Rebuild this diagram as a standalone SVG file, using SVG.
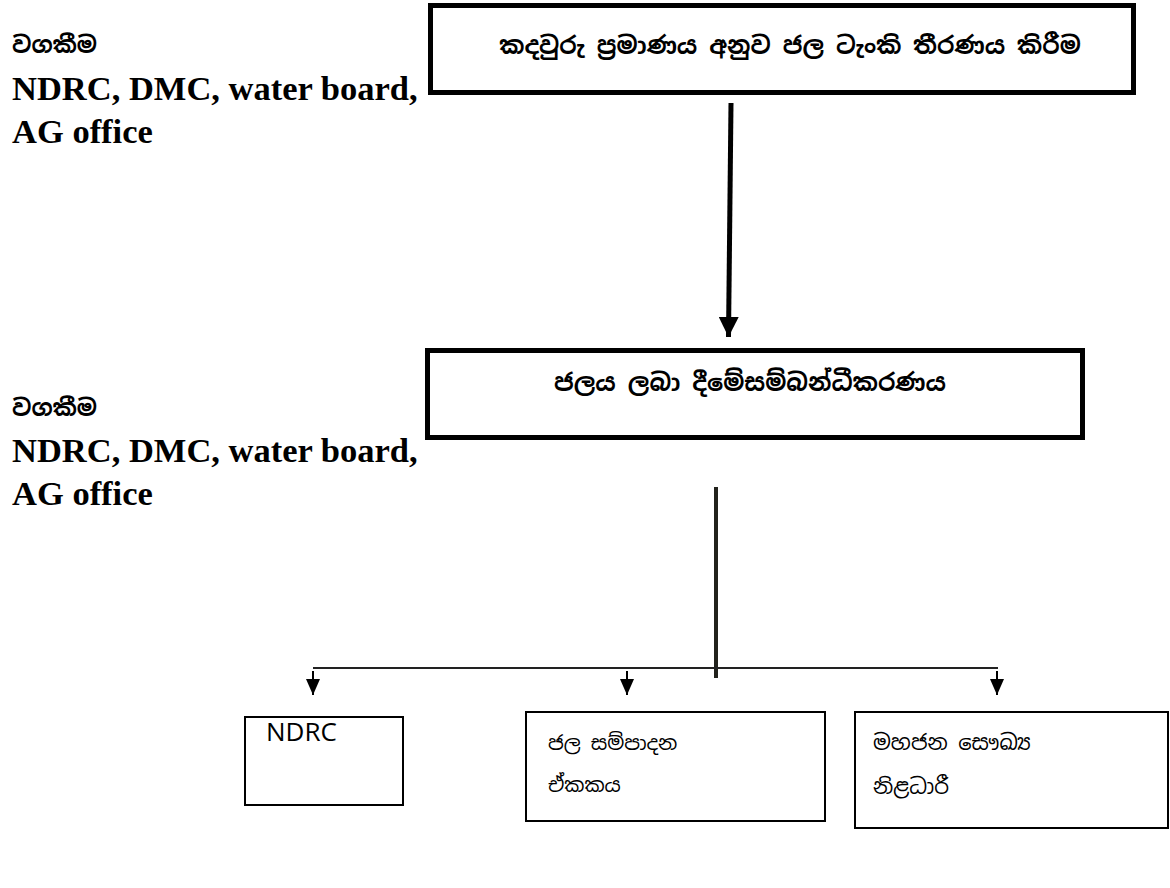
<svg xmlns="http://www.w3.org/2000/svg" width="1170" height="888" viewBox="0 0 1170 888">
<style>
.si{font-family:"Noto Sans Sinhala","Noto Serif Sinhala","Iskoola Pota","Noto Sans",sans-serif;fill:#000}
.en{font-family:"Liberation Serif","Times New Roman",serif;font-weight:bold;font-size:34.5px;fill:#000}
.cal{font-family:"Open Sans","Noto Sans","Liberation Sans",sans-serif;font-size:26px;fill:#000}
.thick{fill:none;stroke:#000;stroke-width:5}
.thin{fill:#fff;stroke:#000;stroke-width:2}
</style>
<defs>
<marker id="ah" viewBox="0 0 10 10" refX="10" refY="5" markerWidth="4" markerHeight="4" orient="auto" markerUnits="strokeWidth"><path d="M0,0 L10,5 L0,10 z" fill="#000"/></marker>
<marker id="ahs" viewBox="0 0 10 10" refX="10" refY="5" markerWidth="8" markerHeight="7" orient="auto" markerUnits="strokeWidth" preserveAspectRatio="none"><path d="M0,0 L10,5 L0,10 z" fill="#000"/></marker>
</defs>
<rect width="1170" height="888" fill="#fff"/>
<g id="label1">
<text class="si" x="12" y="53" font-size="23" font-weight="bold">වගකීම</text>
<text class="en" x="12" y="100">NDRC, DMC, water board,</text>
<text class="en" x="12" y="143">AG office</text>
</g>
<g id="label2">
<text class="si" x="12" y="416" font-size="23" font-weight="bold">වගකීම</text>
<text class="en" x="12" y="462">NDRC, DMC, water board,</text>
<text class="en" x="12" y="505">AG office</text>
</g>
<g id="node-top">
<rect class="thick" x="430.5" y="5.5" width="703" height="87"/>
<text class="si" x="790" y="54" font-size="24" font-weight="bold" text-anchor="middle">කදවුරු ප්‍රමාණය අනුව ජල ටැංකි තීරණය කිරීම</text>
</g>
<g id="node-mid">
<rect class="thick" x="427.5" y="350.5" width="655" height="87"/>
<text class="si" x="750" y="391" font-size="24" font-weight="bold" text-anchor="middle">ජලය ලබා දීමේසම්බන්ධීකරණය</text>
</g>
<g id="node-ndrc">
<rect class="thin" x="245" y="717" width="158" height="88"/>
<text class="cal" x="266" y="741">NDRC</text>
</g>
<g id="node-water">
<rect class="thin" x="526" y="712" width="299" height="109"/>
<text class="si" x="548" y="750" font-size="20">ජල සම්පාදන</text>
<text class="si" x="548" y="792" font-size="20">ඒකකය</text>
</g>
<g id="node-health">
<rect class="thin" x="855" y="712" width="313" height="116"/>
<text class="si" x="873" y="750" font-size="21">මහජන සෞඛ්‍ය</text>
<text class="si" x="873" y="794" font-size="21">නිළධාරී</text>
</g>
<g id="connectors">
<line x1="731" y1="103" x2="728.5" y2="337" stroke="#000" stroke-width="5" marker-end="url(#ah)"/>
<line x1="716" y1="487" x2="716" y2="678" stroke="#22221c" stroke-width="4"/>
<line x1="313" y1="668" x2="998" y2="668" stroke="#222" stroke-width="2"/>
<line x1="313" y1="671" x2="313" y2="695" stroke="#000" stroke-width="2" marker-end="url(#ahs)"/>
<line x1="627" y1="671" x2="627" y2="695" stroke="#000" stroke-width="2" marker-end="url(#ahs)"/>
<line x1="997" y1="671" x2="997" y2="695" stroke="#000" stroke-width="2" marker-end="url(#ahs)"/>
</g>
</svg>
